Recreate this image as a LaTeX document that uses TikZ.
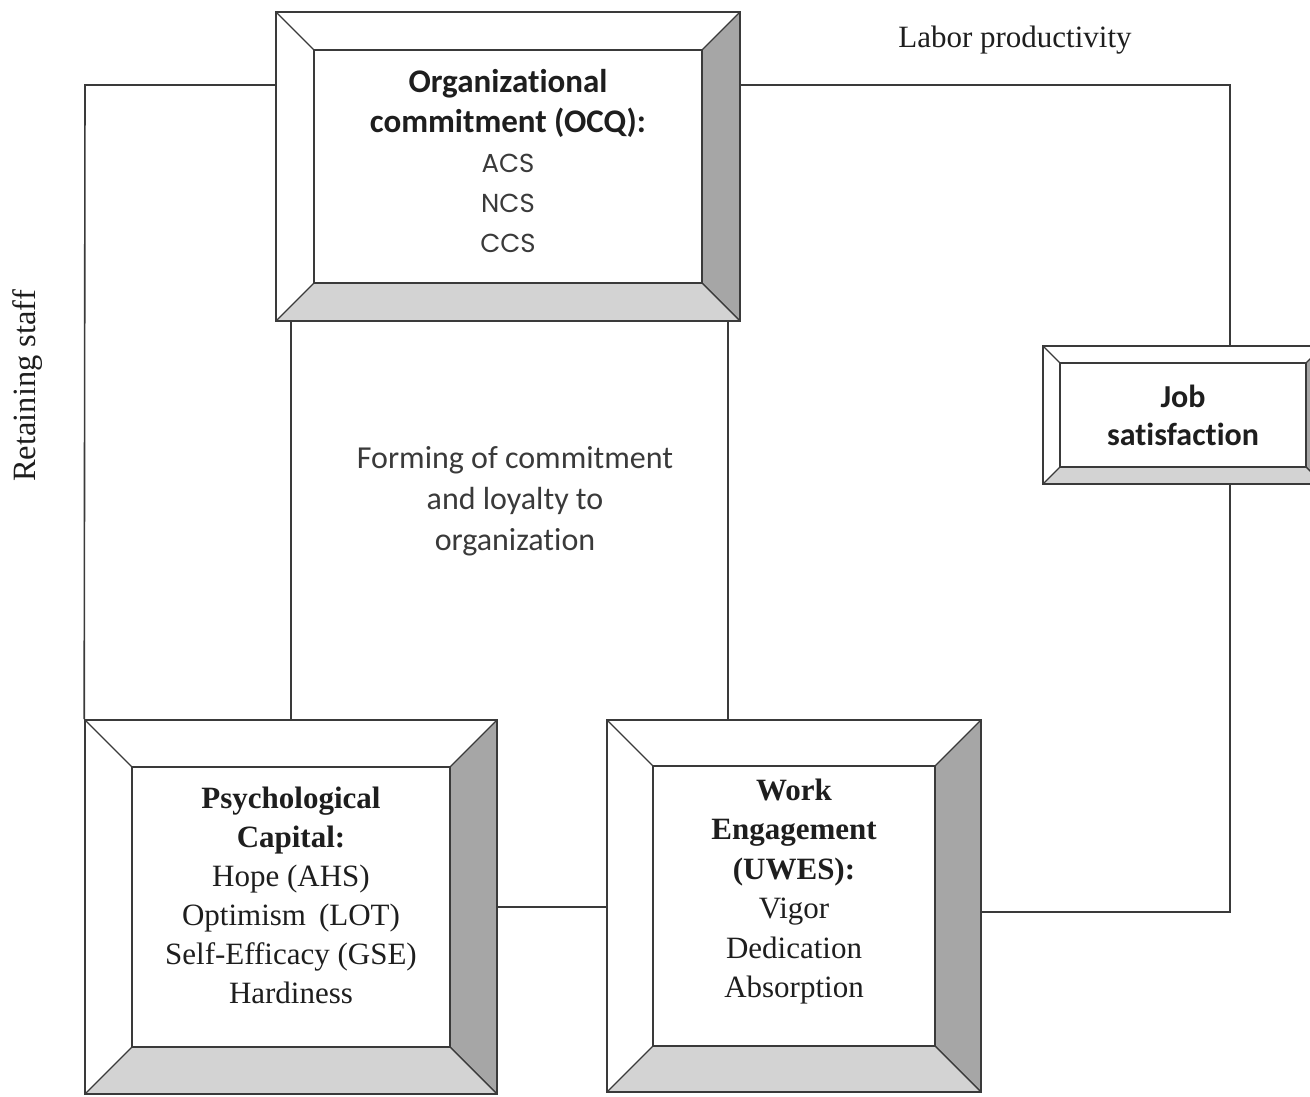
\documentclass[tikz,border=0pt]{standalone}
\usepackage{fontspec}
\setmainfont{Liberation Serif}
\newfontfamily\calfont[Ligatures=NoCommon]{Carlito}
\newfontfamily\popfont{Poppins}
\usetikzlibrary{calc}

\definecolor{edgegray}{HTML}{3A3A3A}
\definecolor{sidegray}{HTML}{A6A6A6}
\definecolor{basegray}{HTML}{D3D3D3}
\definecolor{inkgray}{HTML}{1E1E1E}

\tikzset{
  bevelbox/.style={draw=edgegray, line width=1.6pt, fill=white, inner sep=0pt,
    align=center, text=inkgray,
    path picture={
      \coordinate (oNW) at (path picture bounding box.north west);
      \coordinate (oNE) at (path picture bounding box.north east);
      \coordinate (oSW) at (path picture bounding box.south west);
      \coordinate (oSE) at (path picture bounding box.south east);
      \coordinate (iNW) at ($(oNW)+(#1pt,-#1pt)$);
      \coordinate (iNE) at ($(oNE)+(-#1pt,-#1pt)$);
      \coordinate (iSW) at ($(oSW)+(#1pt,#1pt)$);
      \coordinate (iSE) at ($(oSE)+(-#1pt,#1pt)$);
      \filldraw[draw=edgegray, line width=1.2pt, fill=sidegray] (oNE) -- (oSE) -- (iSE) -- (iNE) -- cycle;
      \filldraw[draw=edgegray, line width=1.2pt, fill=basegray] (oSW) -- (oSE) -- (iSE) -- (iSW) -- cycle;
      \draw[edgegray, line width=1.2pt] (oNW) -- (iNW);
      \draw[edgegray, line width=1.6pt] (iNW) rectangle (iSE);
    }},
  link/.style={draw=edgegray, line width=1.6pt},
  plain/.style={font=\fontsize{31}{39}\selectfont, text=inkgray}
}

\begin{document}
\begin{tikzpicture}[x=1pt, y=-1pt]
  \useasboundingbox (0,0) rectangle (1310,1096);
  \clip (0,0) rectangle (1310,1096);

  % the four boxes
  \node[bevelbox=38, minimum width=464pt, minimum height=309pt,
        font=\fontsize{33}{40}\selectfont] (ocq) at (508,166.5)
    {{\calfont\bfseries Organizat\kern0pt ional}\\
     {\calfont\bfseries commitment (OCQ):}\\
     {\popfont\fontsize{26}{40}\selectfont\color{edgegray} ACS}\\
     {\popfont\fontsize{26}{40}\selectfont\color{edgegray} NCS}\\
     {\popfont\fontsize{26}{40}\selectfont\color{edgegray} CCS}\\[-28pt]\mbox{}};
  \node[bevelbox=17, minimum width=280pt, minimum height=138pt,
        font=\calfont\bfseries\fontsize{32}{38}\selectfont] (job) at (1183,415)
    {Job\\satisfaction};
  \node[bevelbox=47, minimum width=412pt, minimum height=374pt,
        font=\fontsize{31}{39}\selectfont] (psy) at (291,907)
    {\textbf{Psychological}\\ \textbf{Capital:}\\ Hope (AHS)\\ Optimism\, (LOT)\\
     Self-Efficacy (GSE)\\ Hardiness\\[-15pt]\mbox{}};
  \node[bevelbox=46, minimum width=374pt, minimum height=372pt,
        font=\fontsize{31}{39.5}\selectfont] (eng) at (794,906)
    {\textbf{Work}\\ \textbf{Engagement}\\ \textbf{(UWES):}\\ Vigor\\ Dedication\\
     Absorption\\[-4pt]\mbox{}};

  % connectors
  \coordinate (lt) at (85,85);
  \coordinate (rt) at (1230,85);
  \coordinate (rb) at (1230,912);
  \coordinate (rv) at ([xshift=-13pt]ocq.south east);
  \draw[link] (ocq.west |- lt) -- (lt) -- (psy.north west);
  \draw[link] (psy.north) -- (psy.north |- ocq.south);
  \draw[link] (rv) -- (rv |- eng.north);
  \draw[link] (ocq.east |- rt) -- (rt) -- (rt |- job.north);
  \draw[link] (rt |- job.south) -- (rb) -- (rb -| eng.east);
  \draw[link] (psy.east) -- (psy.east -| eng.west);

  % labels
  \node[plain] (prod) at (1015,40) {Labor productivity};
  \node[plain, font=\fontsize{32.5}{39}\selectfont, rotate=90] (keep) at (28,386) {Retaining staff};
  \node[font=\calfont\fontsize{32}{41}\selectfont, text=edgegray, align=center]
    (form) at (515,501) {Forming of commitment\\and loyalty to\\organizat\kern0pt ion};

\end{tikzpicture}
\end{document}
